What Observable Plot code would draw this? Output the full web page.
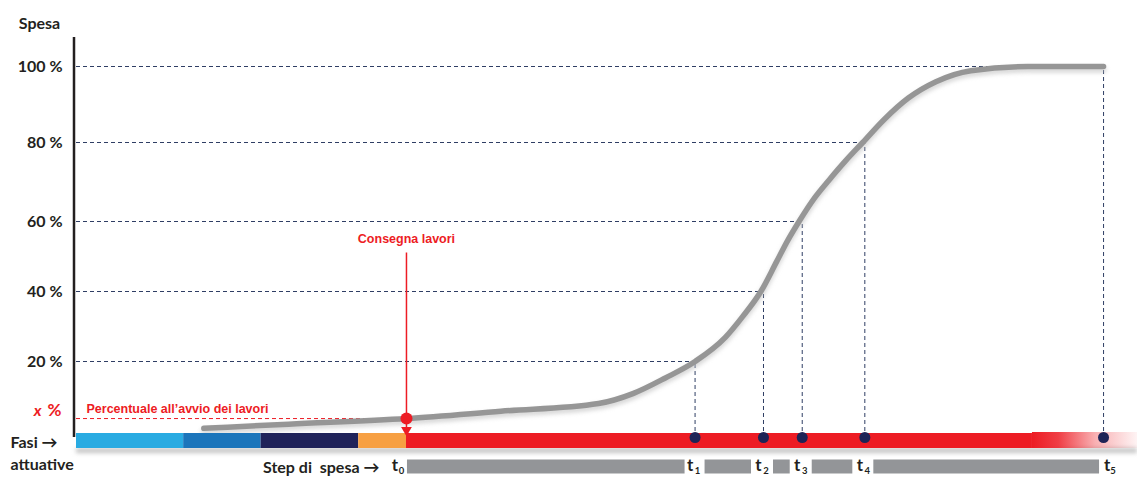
<!DOCTYPE html>
<html><head><meta charset="utf-8">
<script src="https://cdn.jsdelivr.net/npm/d3@7"></script>
<script src="https://cdn.jsdelivr.net/npm/@observablehq/plot@0.6"></script>
<style>
body{margin:0;background:#fff;}
.blur{filter:blur(2px);}
</style></head><body><div id="chart"></div><script>
// ---- data ----
const yTicks = [20, 40, 60, 80, 100];
const xPct = 3.7; // "x %" spesa all'avvio dei lavori

const phaseNames = ["Fase 1", "Fase 2", "Fase 3", "Fase 4", "Lavori"];
const phaseStart = [0, 10.1, 17.4, 26.6, 31.1];
const phaseEnd   = [10.1, 17.4, 26.6, 31.1, 90.1];
const fadeStart = 90.1, fadeEnd = 100;

const stepNames = ["0", "1", "2", "3", "4", "5"];
const stepTimes = [31.1, 58.3, 64.75, 68.4, 74.3, 96.8];
const stepSpend = [xPct, 20, 40, 60, 80, 100];

const curveTime  = [12, 20, 31.1, 40, 49.2, 52.5, 55.5, 58.3, 61.15, 62.8, 64.5, 66.0, 67.0, 68.1, 69.6, 70.9, 72.5, 74.1, 76.1, 78.4, 81, 84.3, 89.7, 96.8];
const curveSpend = [0.9, 2.1, 3.7, 5.8, 8.0, 10.9, 15.3, 20, 26.9, 32.9, 40, 48.6, 54.4, 60, 66.1, 70.4, 75.4, 80, 86.0, 91.7, 96, 98.9, 100, 100];

const consegnaLabel = 55, consegnaTop = 51;

// ---- styles ----
const phaseColors = ["#29abe2", "#1b75bb", "#20235a", "#f7a043", "#ed1c24"];
const RED = "#ed1c24", DARK = "#231f20", NAVY = "#1e2457", GUIDE = "#2f3e64", GRAY = "#939598";
const FONT = "Lato", ARIAL = "Liberation Sans";

// ---- tables ----
const curve = curveTime.map((t, i) => ({t, p: curveSpend[i]}));
const phases = phaseNames.map((name, i) => ({name, x1: phaseStart[i], x2: phaseEnd[i]}));
const steps = stepNames.map((name, i) => ({name, t: stepTimes[i], p: stepSpend[i]}));
const guides = steps.slice(1);
const segs = steps.slice(0, -1).map((s, i) => ({x1: s.t, x2: steps[i + 1].t, i}));
const segFirst = segs.filter(d => d.i === 0);
const segMid = segs.filter(d => d.i > 0 && d.i < segs.length - 1);
const segLast = segs.filter(d => d.i === segs.length - 1);
const stepFirst = steps.slice(0, 1), stepMid = steps.slice(1, -1), stepLast = steps.slice(-1);

const txt = {fontFamily: FONT, fontWeight: "bold", fill: DARK};

function tLabels(data, dxT, dxSub) {
  return [
    Plot.text(data, {...txt, x: "t", y: 0, text: () => "t", dy: 34, dx: dxT, fontSize: 17, textAnchor: "middle"}),
    Plot.text(data, {...txt, x: "t", y: 0, text: "name", dy: 39.5, dx: dxSub, fontSize: 9.5, textAnchor: "middle"})
  ];
}

const chart = Plot.plot({
  width: 1137, height: 477,
  marginLeft: 76, marginRight: 0, marginTop: 37, marginBottom: 40,
  style: {background: "#fff", fontFamily: FONT},
  x: {domain: [0, 100], axis: null},
  y: {type: "linear", domain: [0, 20, 40, 60, 80, 100], range: [431, 361, 291, 221, 142, 66], axis: null},
  color: {domain: phaseNames, range: phaseColors},
  marks: [
    // guides
    Plot.ruleY(guides, {y: "p", x1: 0, x2: "t", stroke: GUIDE, strokeWidth: 1, strokeDasharray: "4,3"}),
    Plot.ruleX(guides, {x: "t", y1: 0, y2: "p", stroke: GUIDE, strokeWidth: 1, strokeDasharray: "4,3"}),
    Plot.ruleY([xPct], {x1: 0, x2: stepTimes[0], stroke: RED, strokeWidth: 1, strokeDasharray: "4,3"}),
    // y axis line
    Plot.ruleX([0], {stroke: DARK, strokeWidth: 2.5, dx: -2.5}),
    // curve
    Plot.line(curve, {x: "t", y: "p", curve: "monotone-x", stroke: "#bdbdbd", strokeWidth: 6, dy: 3, strokeOpacity: 0.6, className: "blur"}),
    Plot.line(curve, {x: "t", y: "p", curve: "monotone-x", stroke: "#969696", strokeWidth: 5.5}),
    // consegna lavori
    Plot.ruleX([stepTimes[0]], {y1: 0, y2: consegnaTop, stroke: RED, strokeWidth: 1.5}),
    Plot.text(["Consegna lavori"], {x: stepTimes[0], y: consegnaLabel, fontFamily: ARIAL, fontWeight: "bold", fontSize: 12.5, fill: RED}),
    // bar shadow
    Plot.ruleY([0], {x1: 0, x2: 100, dy: 19, stroke: "#c4c4c4", strokeWidth: 5, className: "blur"}),
    // phases
    Plot.ruleY(phases, {y: 0, x1: "x1", x2: "x2", stroke: "name", strokeWidth: 15, dy: 9}),
    Plot.ruleY([0], {x1: fadeStart, x2: fadeEnd, stroke: "url(#fade)", strokeWidth: 16, dy: 8.5}),
    // step segments
    Plot.ruleY(segFirst, {y: 0, x1: "x1", x2: "x2", stroke: GRAY, strokeWidth: 14, dy: 35, insetLeft: 1, insetRight: 10}),
    Plot.ruleY(segMid, {y: 0, x1: "x1", x2: "x2", stroke: GRAY, strokeWidth: 14, dy: 35, insetLeft: 10, insetRight: 12}),
    Plot.ruleY(segLast, {y: 0, x1: "x1", x2: "x2", stroke: GRAY, strokeWidth: 14, dy: 35, insetLeft: 9, insetRight: 4}),
    // dots
    Plot.dot(guides, {x: "t", y: 0, dy: 6, r: 5.5, fill: NAVY}),
    Plot.dot([stepTimes[0]], {x: d => d, y: 0, dy: -1.5, symbol: "triangle", rotate: 180, r: 4, fill: RED}),
    Plot.dot([xPct], {x: stepTimes[0], y: d => d, r: 6, fill: RED}),
    // y labels
    Plot.text(["Spesa"], {...txt, frameAnchor: "top-left", lineAnchor: "middle", textAnchor: "middle", dx: -37, dy: -14, fontSize: 16}),
    Plot.text(yTicks, {...txt, x: 0, y: d => d, text: d => d + " %", textAnchor: "end", dx: -14, fontSize: 16}),
    Plot.text(["x"], {x: 0, y: xPct, text: d => d, textAnchor: "end", dx: -35, dy: -8, fontFamily: FONT, fontWeight: "bold", fontStyle: "italic", fontSize: 16, fill: RED}),
    Plot.text(["%"], {x: 0, y: xPct, text: d => d, textAnchor: "end", dx: -15, dy: -8, fontFamily: FONT, fontWeight: "bold", fontSize: 17, fill: RED}),
    Plot.text(["Percentuale all\u2019avvio dei lavori"], {x: 0, y: xPct, textAnchor: "start", dx: 10, dy: -10, fontFamily: ARIAL, fontWeight: "bold", fontSize: 12.5, fill: RED}),
    // bottom labels
    Plot.text(["Fasi \u2192"], {...txt, frameAnchor: "bottom-left", lineAnchor: "middle", textAnchor: "start", dx: -66, dy: 5, fontSize: 16}),
    Plot.text(["attuative"], {...txt, frameAnchor: "bottom-left", lineAnchor: "middle", textAnchor: "start", dx: -66, dy: 27, fontSize: 16}),
    Plot.text(["Step di\u00a0 spesa \u2192"], {...txt, x: stepTimes[0], y: 0, textAnchor: "end", dx: -27, dy: 36, fontSize: 16}),
    // t labels
    ...tLabels(stepFirst, -11.5, -5),
    ...tLabels(stepMid, -5, 2.5),
    ...tLabels(stepLast, 3.5, 9.5)
  ]
});

const ns = "http://www.w3.org/2000/svg";
const xs = chart.scale("x");
const defs = document.createElementNS(ns, "defs");
defs.innerHTML = `<linearGradient id="fade" gradientUnits="userSpaceOnUse" x1="${xs.apply(fadeStart)}" x2="${xs.apply(fadeEnd)}" y1="0" y2="0">
<stop offset="0" stop-color="${RED}"/><stop offset="0.25" stop-color="${RED}" stop-opacity="0.85"/>
<stop offset="0.6" stop-color="${RED}" stop-opacity="0.35"/><stop offset="1" stop-color="${RED}" stop-opacity="0.05"/></linearGradient>`;
chart.prepend(defs);
document.getElementById("chart").appendChild(chart);
</script></body></html>
